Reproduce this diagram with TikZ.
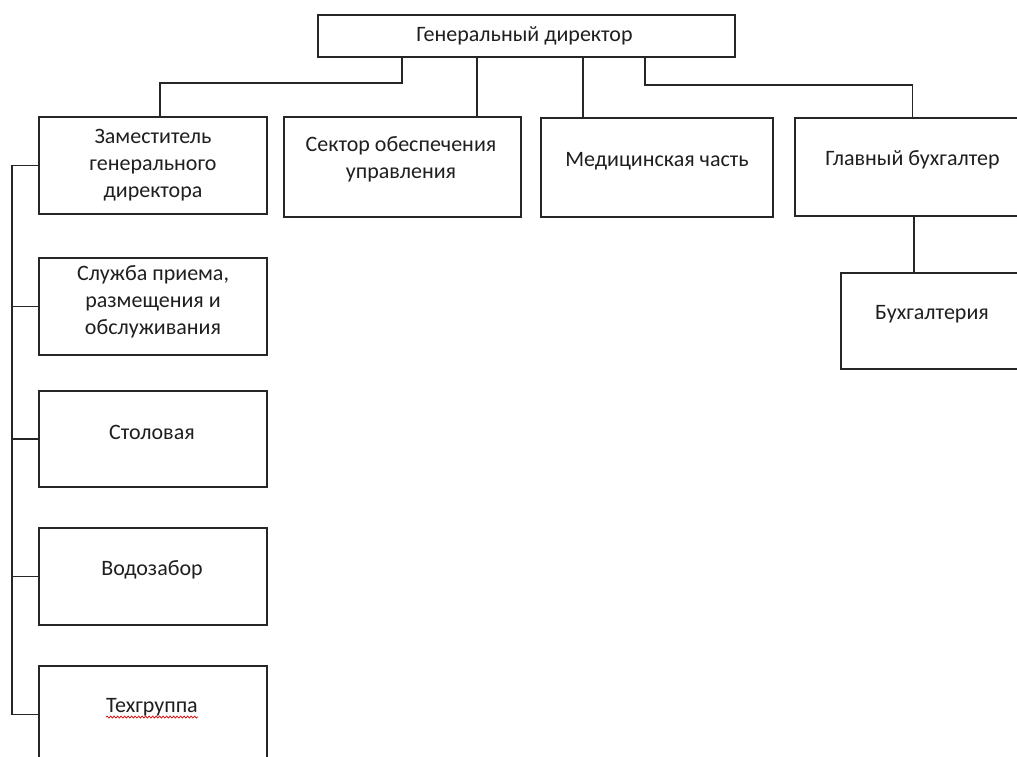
\documentclass[tikz,border=0pt]{standalone}
\usepackage{fontspec}
\setmainfont{Carlito}
\usetikzlibrary{decorations.pathmorphing}
\begin{document}
\begin{tikzpicture}[x=1pt,y=-1pt,
  box/.style={draw=black!85, line width=1.4pt, rectangle, inner sep=0pt},
  lbl/.style={font=\fontsize{22}{27}\selectfont, text=black!88, align=center, inner sep=0pt},
  conn/.style={draw=black!85, line width=1.4pt},
  spell/.style={draw=red!85!black, line width=0.7pt, decorate, decoration={snake, amplitude=1pt, segment length=3.5pt}}]
\clip (0,0) rectangle (1017,756);
\fill[white] (0,0) rectangle (1017,756);

% boxes
\node[box, minimum width=417pt, minimum height=42pt] (gd) at (526.5,36) {};
\node[box, minimum width=228pt, minimum height=97pt] (zam) at (153,165.5) {};
\node[box, minimum width=228pt, minimum height=97pt] (sl) at (153,306.5) {};
\node[box, minimum width=228pt, minimum height=96pt] (st) at (153,439) {};
\node[box, minimum width=228pt, minimum height=97pt] (vz) at (153,576.5) {};
\node[box, minimum width=228pt, minimum height=97pt] (tg) at (153,714.5) {};
\node[box, minimum width=237pt, minimum height=100pt] (sec) at (402.5,167) {};
\node[box, minimum width=232pt, minimum height=99pt] (med) at (657,167.5) {};
\node[box, minimum width=235pt, minimum height=98pt] (glav) at (912.5,167) {};
\node[box, minimum width=182pt, minimum height=96pt] (bukh) at (932,321) {};

% labels
\node[lbl] (tgd) at (524.5,36) {Генеральный директор};
\node[lbl] (tzam) at (153,165) {Заместитель\\генерального\\директора};
\node[lbl] (tsl) at (153,302) {Служба приема,\\размещения и\\обслуживания};
\node[lbl] (tst) at (152,432) {Столовая};
\node[lbl] (tvz) at (152,570) {Водозабор};
\node[lbl] (ttg) at (152,707) {Техгруппа};
\node[lbl] (tsec) at (401,159.5) {Сектор обеспечения\\управления};
\node[lbl] (tmed) at (657,161.5) {Медицинская часть};
\node[lbl] (tglav) at (912.5,160) {Главный бухгалтер};
\node[lbl] (tbukh) at (932,314) {Бухгалтерия};

% spell-check underline
\draw[spell] (ttg.south west) ++(0,1) -- ++(92,0);

% connector coordinates
\coordinate (a1) at (402,0);
\coordinate (j1) at (160,83);
\coordinate (a2) at (477,0);
\coordinate (a3) at (583,0);
\coordinate (j4) at (645,85);
\coordinate (b1) at (914,0);
\coordinate (bus) at (12,0);

% connectors from director
\draw[conn] (gd.south -| a1) |- (j1) -- (j1 |- zam.north);
\draw[conn] (gd.south -| a2) -- (a2 |- sec.north);
\draw[conn] (gd.south -| a3) -- (a3 |- med.north);
\draw[conn] (gd.south -| j4) -- (j4) -| (glav.north);
\draw[conn] (glav.south -| b1) -- (b1 |- bukh.north);

% left bus
\draw[conn] (zam.west) -- (zam.west -| bus) -- (bus |- tg.west) -- (tg.west);
\draw[conn] (sl.west) -- (sl.west -| bus);
\draw[conn] (st.west) -- (st.west -| bus);
\draw[conn] (vz.west) -- (vz.west -| bus);
\end{tikzpicture}
\end{document}
